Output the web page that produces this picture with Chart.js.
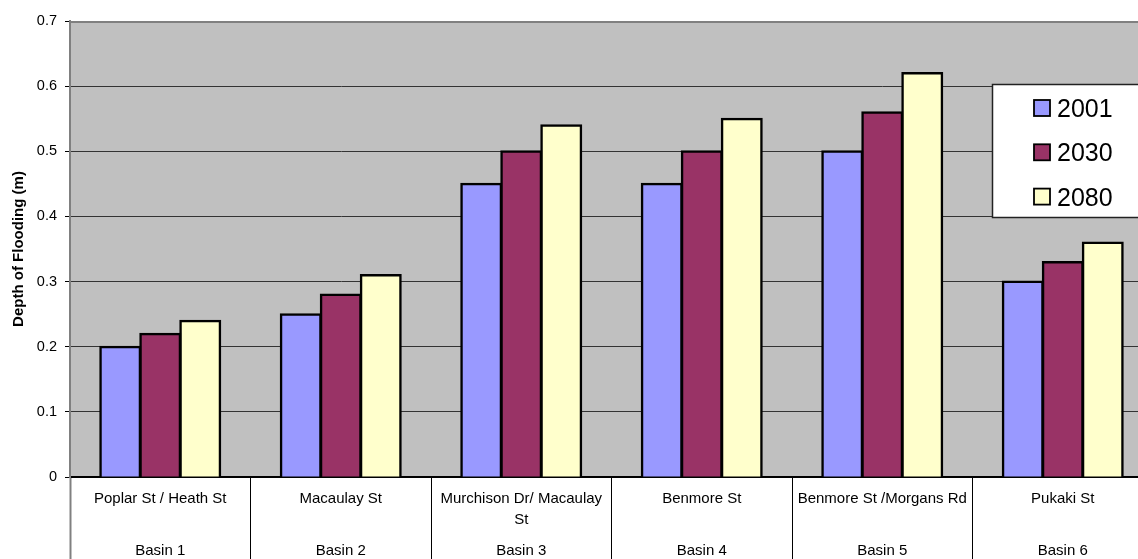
<!DOCTYPE html>
<html>
<head>
<meta charset="utf-8">
<script src="https://cdn.jsdelivr.net/npm/chart.js@4.4.1/dist/chart.umd.min.js"></script>
<style>
  html, body { margin: 0; padding: 0; overflow: hidden; background: #fff; }
  #wrap { width: 1160px; height: 559px; }
</style>
</head>
<body>
<div id="wrap"><canvas id="chart" width="1160" height="559"></canvas></div>
<script>
// Flood depth per drainage basin, for three planning years
const streets = ['Poplar St / Heath St', 'Macaulay St', ['Murchison Dr/ Macaulay', 'St'], 'Benmore St', 'Benmore St /Morgans Rd', 'Pukaki St'];
const basins = ['Basin 1', 'Basin 2', 'Basin 3', 'Basin 4', 'Basin 5', 'Basin 6'];
const years = ['2001', '2030', '2080'];
const depth2001 = [0.20, 0.25, 0.45, 0.45, 0.50, 0.30];
const depth2030 = [0.22, 0.28, 0.50, 0.50, 0.56, 0.33];
const depth2080 = [0.24, 0.31, 0.54, 0.55, 0.62, 0.36];
const yMin = 0, yMax = 0.7, yStep = 0.1;

const colours = ['#9999FF', '#993366', '#FFFFCC'];
const FONT = '"Liberation Sans", Arial, sans-serif';

// Two-level category labels: street name (one or two lines) above the basin name
const tickLines = streets.map((s, i) => {
  const st = Array.isArray(s) ? s : [s];
  return [st[0], '', st[1] || '', '', '', basins[i]];
});

// Grey plot area with a grey frame along the top
const plotBackground = {
  id: 'plotBackground',
  beforeDraw(chart) {
    const { ctx, chartArea: a } = chart;
    ctx.save();
    ctx.fillStyle = '#C0C0C0';
    ctx.fillRect(a.left, a.top, a.right - a.left, a.bottom - a.top);
    ctx.restore();
  },
  afterDraw(chart) {
    const { ctx, chartArea: a } = chart;
    ctx.save();
    ctx.strokeStyle = '#808080';
    ctx.lineWidth = 2;
    ctx.beginPath();
    ctx.moveTo(a.left, a.top + 1);
    ctx.lineTo(a.right, a.top + 1);
    ctx.stroke();
    ctx.restore();
  }
};

// Boxed legend inside the plot area, built from the datasets
const boxLegend = {
  id: 'boxLegend',
  afterDatasetsDraw(chart) {
    const { ctx } = chart;
    const bx = 992.5, by = 84.5, bw = 200, bh = 133;
    ctx.save();
    ctx.fillStyle = '#fff';
    ctx.fillRect(bx, by, bw, bh);
    ctx.strokeStyle = '#222';
    ctx.lineWidth = 1.5;
    ctx.strokeRect(bx, by, bw, bh);
    ctx.font = '25px ' + FONT;
    ctx.textBaseline = 'alphabetic';
    ctx.textAlign = 'left';
    chart.data.datasets.forEach((ds, i) => {
      const cy = 108 + i * 44.3;
      ctx.fillStyle = ds.backgroundColor;
      ctx.fillRect(1034, cy - 8, 16, 16);
      ctx.strokeStyle = '#000';
      ctx.lineWidth = 1.8;
      ctx.strokeRect(1034, cy - 8, 16, 16);
      ctx.fillStyle = '#000';
      ctx.fillText(ds.label, 1057, cy + 9);
    });
    ctx.restore();
  }
};

const datasets = [depth2001, depth2030, depth2080].map((d, i) => ({
  label: years[i],
  data: d,
  backgroundColor: colours[i],
  borderColor: '#000',
  borderWidth: 2.5,
  inflateAmount: 1,
  categoryPercentage: 0.665,
  barPercentage: 1
}));

new Chart(document.getElementById('chart'), {
  type: 'bar',
  data: { labels: basins, datasets },
  options: {
    responsive: false,
    animation: false,
    devicePixelRatio: 1,
    layout: { padding: { left: 0, top: 21, right: 7, bottom: 0 } },
    plugins: { legend: { display: false }, tooltip: { enabled: false } },
    scales: {
      x: {
        offset: true,
        grid: {
          offset: true,
          drawOnChartArea: false,
          tickLength: 82,
          tickColor: c => (c.index === 0 ? '#808080' : '#000'),
          tickWidth: c => (c.index === 0 ? 2 : 1)
        },
        border: { color: '#000', width: 2 },
        ticks: {
          color: '#000',
          font: { family: FONT, size: 15, lineHeight: '10.4px' },
          padding: -65.2,
          maxRotation: 0,
          minRotation: 0,
          autoSkip: false,
          callback: (v, i) => tickLines[i]
        },
        afterFit: s => { s.height = 82; }
      },
      y: {
        min: yMin,
        max: yMax,
        ticks: {
          stepSize: yStep,
          color: '#000',
          font: { family: FONT, size: 14.5 },
          padding: 8
        },
        grid: {
          color: c => {
            const v = c.tick ? c.tick.value : 0;
            return (Math.abs(v - yMin) < 1e-9 || Math.abs(v - yMax) < 1e-9) ? 'rgba(0,0,0,0)' : '#333';
          },
          lineWidth: 1,
          tickColor: '#000',
          tickLength: 5
        },
        border: { color: '#808080', width: 2 },
        title: {
          display: true,
          text: 'Depth of Flooding (m)',
          color: '#000',
          font: { family: FONT, size: 15, weight: 'bold' },
          padding: { top: 10, bottom: 0 }
        },
        afterFit: s => { s.width = 70; }
      }
    }
  },
  plugins: [plotBackground, boxLegend]
});
</script>
</body>
</html>
